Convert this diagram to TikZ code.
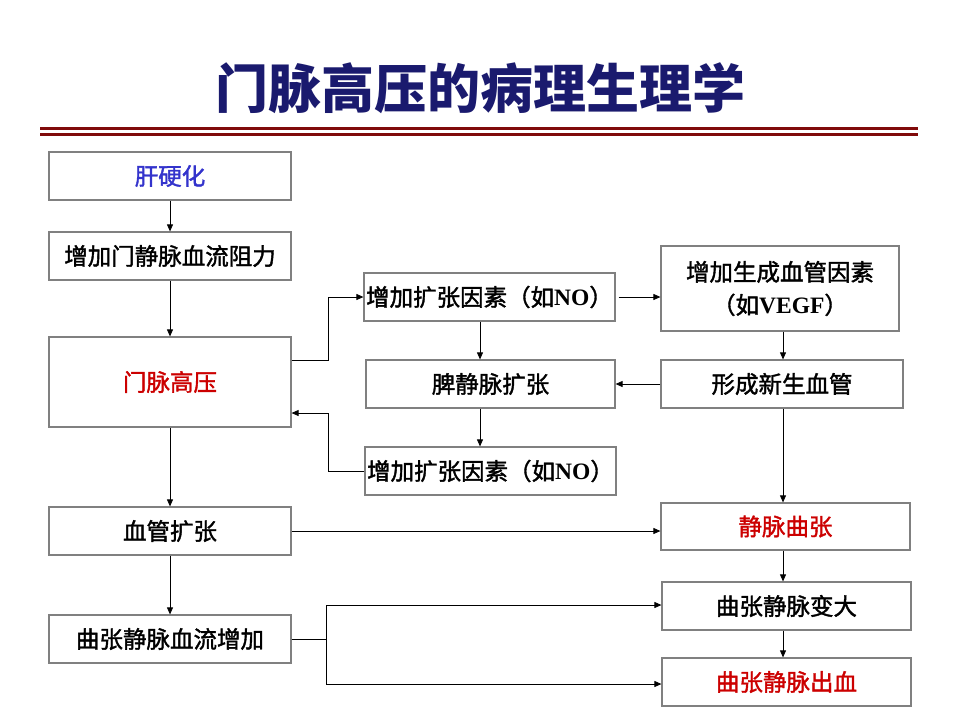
\documentclass[tikz,border=0pt]{standalone}
\usepackage{fontspec}
\setmainfont{Liberation Serif}
\newfontfamily\cjk{Noto Sans CJK SC}
\newfontfamily\cjkm[FakeBold=1.6]{Noto Sans CJK SC}
\usetikzlibrary{arrows.meta}
\definecolor{titleblue}{RGB}{26,26,110}
\definecolor{linered}{RGB}{128,10,10}
\definecolor{txtblue}{RGB}{51,51,204}
\definecolor{txtred}{RGB}{204,0,0}
\definecolor{boxgray}{RGB}{128,128,128}
\newcommand{\lat}[1]{{\rmfamily\bfseries #1}}
\begin{document}
\begin{tikzpicture}[x=1pt,y=-1pt,
  box/.style={draw=boxgray,line width=1.2pt,rectangle,inner sep=0pt,align=center,
    font=\cjkm\fontsize{23.5}{33}\selectfont},
  arr/.style={draw=black,line width=0.8pt,-{Triangle[length=7pt,width=6pt]}},
  ln/.style={draw=black,line width=0.8pt}]
\useasboundingbox (0,0) rectangle (960,720);
\fill[white] (0,0) rectangle (960,720);
% title
\node[text=titleblue,font=\cjk\bfseries\fontsize{53}{58}\selectfont] (title) at (480,88) {门脉高压的病理生理学};
\draw[linered,line width=3pt] (40,128) -- (918,128);
\draw[linered,line width=3pt] (40,134.5) -- (918,134.5);
% left column
\node[box,minimum width=242pt,minimum height=48pt,text=txtblue] (gan) at (170,176) {肝硬化};
\node[box,minimum width=242pt,minimum height=48pt] (zj) at (170,256) {增加门静脉血流阻力};
\node[box,minimum width=242pt,minimum height=90pt,text=txtred] (mm) at (170,382) {门脉高压};
\node[box,minimum width=242pt,minimum height=48pt] (xg) at (170,531) {血管扩张};
\node[box,minimum width=242pt,minimum height=48pt] (xl) at (170,639) {曲张静脉血流增加};
% middle column
\node[box,minimum width=251pt,minimum height=48pt] (no1) at (489.5,297) {增加扩张因素（如\lat{NO}）};
\node[box,minimum width=249pt,minimum height=48pt] (pj) at (490.5,384) {脾静脉扩张};
\node[box,minimum width=251pt,minimum height=48pt] (no2) at (490.5,471) {增加扩张因素（如\lat{NO}）};
% right column
\node[box,minimum width=238pt,minimum height=85pt] (vegf) at (780,288.5) {增加生成血管因素\\（如\lat{VEGF}）};
\node[box,minimum width=242pt,minimum height=48pt] (xs) at (782,384) {形成新生血管};
\node[box,minimum width=249pt,minimum height=47pt,text=txtred] (jm) at (785.5,526.5) {静脉曲张};
\node[box,minimum width=249pt,minimum height=48pt] (bd) at (786.5,606) {曲张静脉变大};
\node[box,minimum width=249pt,minimum height=48pt,text=txtred] (cx) at (786.5,682) {曲张静脉出血};
\coordinate (mx) at (480,0);
\coordinate (rx) at (783,0);
% left chain
\draw[arr] (gan) -- (zj);
\draw[arr] (zj) -- (mm);
\draw[arr] (mm) -- (xg);
\draw[arr] (xg) -- (xl);
% loops
\draw[arr] ([yshift=22pt]mm.east) -- ++(37,0) |- (no1.west);
\draw[arr] (no2.west) -- ++(-36,0) |- ([yshift=-31pt]mm.east);
% middle
\draw[arr] (mx |- no1.south) -- (mx |- pj.north);
\draw[arr] (mx |- pj.south) -- (mx |- no2.north);
\draw[arr] ([xshift=3pt]no1.east) -- (no1.east -| vegf.west);
\draw[arr] (rx |- vegf.south) -- (rx |- xs.north);
\draw[arr] (xs.west) -- (pj.east);
\draw[arr] (rx |- xs.south) -- (rx |- jm.north);
\draw[arr] (xg.east) -- (xg.east -| jm.west);
\draw[arr] (rx |- jm.south) -- (rx |- bd.north);
\draw[arr] (rx |- bd.south) -- (rx |- cx.north);
% bottom branch
\draw[ln] (xl.east) -- ++(35,0) coordinate (br);
\draw[arr] (br) |- ([yshift=1pt]bd.west);
\draw[arr] (br) |- ([yshift=-2pt]cx.west);
\end{tikzpicture}
\end{document}
